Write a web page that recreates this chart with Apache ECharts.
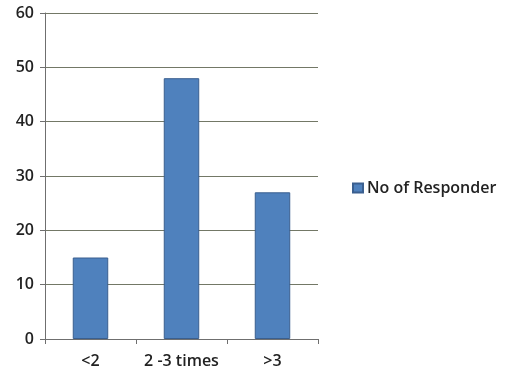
<!DOCTYPE html>
<html>
<head>
<meta charset="utf-8">
<script src="https://cdn.jsdelivr.net/npm/echarts@6/dist/echarts.min.js"></script>
<style>
  html, body { margin: 0; padding: 0; background: #fff; }
  #chart { width: 505px; height: 375px; }
</style>
</head>
<body>
<div id="chart"></div>
<script>
// Survey frequency categories and number of responders in each
const categories = ['<2', '2 -3 times', '>3'];
const responders = [15, 48, 27];
const seriesName = 'No of Responder';

// Value axis scale
const yMin = 0;
const yMax = 60;
const yStep = 10;

const chart = echarts.init(document.getElementById('chart'), null, { renderer: 'canvas' });

const labelFont = {
  fontFamily: '"Open Sans", Lato, sans-serif',
  fontSize: 16,
  fontWeight: 600,
  color: '#222222'
};

chart.setOption({
  animation: false,
  backgroundColor: '#ffffff',
  grid: { left: 45, right: 187, top: 13, bottom: 36, containLabel: false },
  legend: {
    data: [seriesName],
    orient: 'vertical',
    left: 347,
    top: 175,
    itemWidth: 10,
    itemHeight: 9,
    itemGap: 0,
    textStyle: Object.assign({}, labelFont, { padding: [0, 0, 0, -1] }),
    icon: 'rect'
  },
  xAxis: {
    type: 'category',
    data: categories,
    axisLine: { lineStyle: { color: '#6f6f6f', width: 1 } },
    axisTick: { show: true, length: 5, alignWithLabel: false, lineStyle: { color: '#6f6f6f' } },
    axisLabel: Object.assign({}, labelFont, { margin: 14, interval: 0, hideOverlap: false })
  },
  yAxis: {
    type: 'value',
    min: yMin,
    max: yMax,
    interval: yStep,
    axisLine: { show: true, lineStyle: { color: '#6f6f6f', width: 1 } },
    axisTick: { show: true, length: 5, lineStyle: { color: '#6f6f6f' } },
    axisLabel: Object.assign({}, labelFont, { margin: 11 }),
    splitLine: { show: true, lineStyle: { color: '#737866', width: 1 } }
  },
  series: [{
    name: seriesName,
    type: 'bar',
    data: responders,
    barWidth: '39%',
    itemStyle: { color: '#4f81bd', borderColor: '#3a5f8f', borderWidth: 1 }
  }]
});
</script>
</body>
</html>
